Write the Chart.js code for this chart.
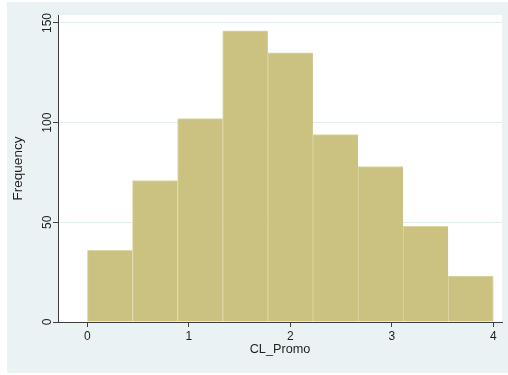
<!DOCTYPE html>
<html>
<head>
<meta charset="utf-8">
<script src="https://cdn.jsdelivr.net/npm/chart.js@4/dist/chart.umd.min.js"></script>
<style>
  html, body { margin: 0; padding: 0; background: #ffffff; }
  #wrap { width: 508px; height: 375px; }
</style>
</head>
<body>
<div id="wrap"><canvas id="hist" width="508" height="375"></canvas></div>
<script>
// Histogram of CL_Promo: bins over [binMin, binMax], counts per bin
const binMin = 0;
const binMax = 4;
const frequencies = [36, 71, 102, 146, 135, 94, 78, 48, 23];
const xTickValues = [0, 1, 2, 3, 4];
const yTickValues = [0, 50, 100, 150];
const xTitle = 'CL_Promo';
const yTitle = 'Frequency';

const binWidth = (binMax - binMin) / frequencies.length;
const points = frequencies.map((f, i) => ({ x: binMin + (i + 0.5) * binWidth, y: f }));

const FONT = "'Liberation Sans', Arial, Helvetica, sans-serif";
const BG = '#EAF2F3';
const AXIS = '#3f3f3f';
const TEXT = '#1e1e1e';

// outer panel + white plot region
const framePlugin = {
  id: 'frame',
  beforeDraw(chart) {
    const { ctx, chartArea: a } = chart;
    ctx.save();
    ctx.fillStyle = '#ffffff';
    ctx.fillRect(0, 0, chart.width, chart.height);
    ctx.fillStyle = BG;
    ctx.fillRect(7, 2, chart.width - 7, 371);
    ctx.fillStyle = '#ffffff';
    ctx.fillRect(a.left, a.top, a.right - a.left, a.bottom - a.top);
    ctx.restore();
  }
};

// vertical (rotated) tick labels on the y axis
const yLabelPlugin = {
  id: 'yLabels',
  afterDraw(chart) {
    const { ctx } = chart;
    const ys = chart.scales.y;
    ctx.save();
    ctx.fillStyle = TEXT;
    ctx.font = '12px ' + FONT;
    ctx.textAlign = 'center';
    ctx.textBaseline = 'middle';
    yTickValues.forEach(v => {
      const py = ys.getPixelForValue(v);
      ctx.save();
      ctx.translate(ys.right - 10, py);
      ctx.rotate(-Math.PI / 2);
      ctx.fillText(String(v), 0, 0);
      ctx.restore();
    });
    ctx.restore();
  }
};

new Chart(document.getElementById('hist'), {
  type: 'bar',
  data: {
    datasets: [{
      data: points,
      backgroundColor: '#CBC281',
      borderColor: '#DED6A4',
      borderWidth: ctx => ({ top: 1, left: 1, bottom: 0, right: ctx.dataIndex === frequencies.length - 1 ? 1 : 0 }),
      borderSkipped: false,
      barPercentage: 1,
      categoryPercentage: 1
    }]
  },
  options: {
    responsive: false,
    animation: false,
    events: [],
    layout: { padding: { left: 0, right: 6, top: 15, bottom: 3 } },
    plugins: { legend: { display: false }, tooltip: { enabled: false } },
    scales: {
      x: {
        type: 'linear',
        min: -0.29,
        max: 4.086,
        offset: false,
        afterBuildTicks: s => { s.ticks = xTickValues.map(v => ({ value: v })); },
        afterFit: s => { s.height = 50; },
        grid: { offset: false, drawOnChartArea: false, drawTicks: true, tickLength: 5, tickColor: AXIS, tickWidth: 1 },
        border: { display: true, color: AXIS, width: 1 },
        ticks: { color: TEXT, font: { family: FONT, size: 12 }, padding: 2, maxRotation: 0, callback: v => String(v) },
        title: { display: true, text: xTitle, color: TEXT, font: { family: FONT, size: 12.7 }, padding: { top: 0, bottom: 15 } }
      },
      y: {
        min: 0,
        max: 154,
        afterBuildTicks: s => { s.ticks = yTickValues.map(v => ({ value: v })); },
        afterFit: s => { s.width = 58; },
        grid: { color: '#E3ECEE', lineWidth: 1, drawTicks: true, tickLength: 5, tickColor: AXIS, tickWidth: 1 },
        border: { display: true, color: AXIS, width: 1 },
        ticks: { display: false },
        title: { display: true, text: yTitle, color: TEXT, font: { family: FONT, size: 13.5 }, padding: { top: 10, bottom: 0 } }
      }
    }
  },
  plugins: [framePlugin, yLabelPlugin]
});
</script>
</body>
</html>
